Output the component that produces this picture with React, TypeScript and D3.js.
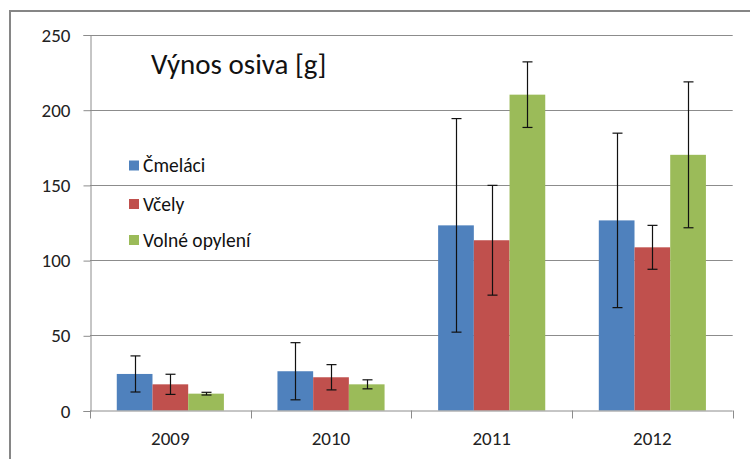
import React, { useEffect, useRef } from 'react';
import * as d3 from 'd3';

const years = ['2009', '2010', '2011', '2012'];
const seriesNames = ['Čmeláci', 'Včely', 'Volné opylení'];
const seriesColors = ['#4F81BD', '#C0504D', '#9BBB59'];

// mean values per series, one entry per year
const cmelaci = [24.3, 26.1, 123.1, 126.4];
const vcely = [17.4, 22.1, 113.2, 108.5];
const volne = [11.2, 17.4, 210, 170];

// error (+/-) per series
const cmelaciErr = [12, 19, 71, 58];
const vcelyErr = [6.7, 8.4, 36.5, 14.6];
const volneErr = [0.9, 3, 21.8, 48.5];

const yTicks = [0, 50, 100, 150, 200, 250];
const title = 'Výnos osiva [g]';

const W = 750;
const H = 459;
const FONT = 'Carlito, Lato, "Open Sans", sans-serif';

export default function App() {
  const svgRef = useRef<SVGSVGElement>(null);

  useEffect(() => {
    if (!svgRef.current) return;
    const svg = d3.select(svgRef.current);
    svg.selectAll('*').remove();

    const values = [cmelaci, vcely, volne];
    const errors = [cmelaciErr, vcelyErr, volneErr];

    const left = 90;
    const right = 732.7;
    const top = 34.5;
    const bottom = 410.5;

    // outer frame
    svg.append('rect')
      .attr('x', 10)
      .attr('y', 11)
      .attr('width', 800)
      .attr('height', 500)
      .attr('fill', 'white')
      .attr('stroke', '#868686')
      .attr('stroke-width', 2);

    const x = d3.scaleBand<string>()
      .domain(years)
      .range([left, right])
      .paddingInner(1 / 3)
      .paddingOuter(1 / 6);

    const xs = d3.scaleBand<string>()
      .domain(seriesNames)
      .range([0, x.bandwidth()]);

    const y = d3.scaleLinear().domain([0, 250]).range([bottom, top]);

    // gridlines
    svg.append('g')
      .selectAll('line')
      .data(yTicks.filter(t => t > 0))
      .enter()
      .append('line')
      .attr('x1', left)
      .attr('x2', right)
      .attr('y1', d => Math.round(y(d)) + 0.5)
      .attr('y2', d => Math.round(y(d)) + 0.5)
      .attr('stroke', '#8c8c8c')
      .attr('stroke-width', 1);

    // y axis
    const yAxis = d3.axisLeft(y)
      .tickValues(yTicks)
      .tickSize(7)
      .tickPadding(13)
      .tickFormat(d => String(d));

    const gy = svg.append('g')
      .attr('transform', `translate(${left + 0.5},0.5)`)
      .call(yAxis);
    gy.select('.domain').attr('stroke', '#8c8c8c');
    gy.selectAll('line').attr('stroke', '#8c8c8c');
    gy.selectAll('text')
      .attr('fill', '#222')
      .style('font-family', FONT)
      .style('font-size', '19px');

    // bars
    seriesNames.forEach((name, si) => {
      const g = svg.append('g');
      g.selectAll('rect')
        .data(years)
        .enter()
        .append('rect')
        .attr('x', d => (x(d) as number) + (xs(name) as number))
        .attr('y', (d, i) => y(values[si][i]))
        .attr('width', xs.bandwidth())
        .attr('height', (d, i) => bottom - y(values[si][i]))
        .attr('fill', seriesColors[si]);
    });

    // x axis line + category separators
    svg.append('line')
      .attr('x1', left)
      .attr('x2', right)
      .attr('y1', bottom + 0.5)
      .attr('y2', bottom + 0.5)
      .attr('stroke', '#8c8c8c');

    const step = x.step();
    svg.append('g')
      .selectAll('line')
      .data(d3.range(years.length + 1))
      .enter()
      .append('line')
      .attr('x1', i => Math.round(left + i * step) + 0.5)
      .attr('x2', i => Math.round(left + i * step) + 0.5)
      .attr('y1', bottom)
      .attr('y2', bottom + 8)
      .attr('stroke', '#8c8c8c');

    svg.append('g')
      .selectAll('text')
      .data(years)
      .enter()
      .append('text')
      .attr('x', d => (x(d) as number) + x.bandwidth() / 2)
      .attr('y', 445)
      .attr('text-anchor', 'middle')
      .attr('fill', '#222')
      .style('font-family', FONT)
      .style('font-size', '19px')
      .text(d => d);

    // error bars
    seriesNames.forEach((name, si) => {
      const g = svg.append('g').attr('stroke', '#111').attr('stroke-width', 1.2);
      years.forEach((yr, i) => {
        const cx = Math.round((x(yr) as number) + (xs(name) as number) + xs.bandwidth() / 2) + 0.5;
        const hi = y(values[si][i] + errors[si][i]);
        const lo = y(values[si][i] - errors[si][i]);
        g.append('line').attr('x1', cx).attr('x2', cx).attr('y1', hi).attr('y2', lo);
        g.append('line').attr('x1', cx - 5).attr('x2', cx + 5).attr('y1', hi).attr('y2', hi);
        g.append('line').attr('x1', cx - 5).attr('x2', cx + 5).attr('y1', lo).attr('y2', lo);
      });
    });

    // title
    svg.append('text')
      .attr('x', 151)
      .attr('y', 74)
      .attr('fill', '#111')
      .style('font-family', FONT)
      .style('font-size', '29px')
      .text(title);

    // legend
    const legendY = [165.5, 204, 240];
    const legend = svg.append('g');
    seriesNames.forEach((name, i) => {
      legend.append('rect')
        .attr('x', 129)
        .attr('y', legendY[i] - 5)
        .attr('width', 10)
        .attr('height', 10)
        .attr('fill', seriesColors[i]);
      legend.append('text')
        .attr('x', 143)
        .attr('y', legendY[i])
        .attr('dy', '0.35em')
        .attr('fill', '#111')
        .style('font-family', FONT)
        .style('font-size', '19.5px')
        .text(name);
    });
  }, []);

  return (
    <svg
      ref={svgRef}
      width={W}
      height={H}
      style={{ position: 'absolute', left: 0, top: 0, background: 'white' }}
    />
  );
}
